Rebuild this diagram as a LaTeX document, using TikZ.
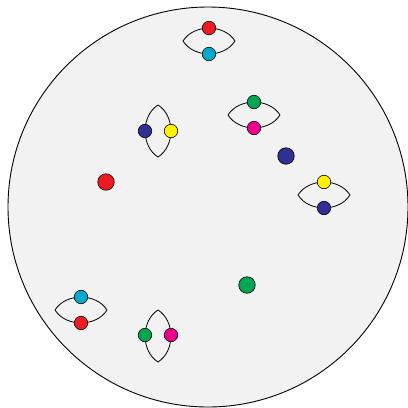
\documentclass[tikz,border=0pt]{standalone}
\usepackage{xcolor}
\usetikzlibrary{positioning}

\definecolor{discgray}{RGB}{242,242,242}
\definecolor{dotred}{RGB}{237,28,36}
\definecolor{dotcyan}{RGB}{0,170,200}
\definecolor{dotblue}{RGB}{46,49,146}
\definecolor{dotyellow}{RGB}{255,242,0}
\definecolor{dotgreen}{RGB}{0,166,81}
\definecolor{dotmagenta}{RGB}{236,0,140}

\begin{document}
\begin{tikzpicture}[
  x=1pt, y=-1pt,
  dot/.style ={circle, draw=black, line width=0.6pt, inner sep=0pt,
               minimum size=13.5pt},
  bigdot/.style={dot, minimum size=16.5pt},
  lens/.style={line width=0.8pt, black},
  disc/.style={draw=black, line width=0.9pt, fill=discgray},
]
\useasboundingbox (0,0) rectangle (408,408);

% Disc
\draw[disc] (208,207) circle (200);

% Lens tips
\coordinate (l1w) at (183,41);  \coordinate (l1e) at (235,41);
\coordinate (l2n) at (158,105); \coordinate (l2s) at (158,157);
\coordinate (l3w) at (228,115); \coordinate (l3e) at (280,115);
\coordinate (l4w) at (298,195); \coordinate (l4e) at (350,195);
\coordinate (l5w) at (55,310);  \coordinate (l5e) at (107,310);
\coordinate (l6n) at (158,310); \coordinate (l6s) at (158,362);

% Lenses
\draw[lens] (l1w) to[bend left=58] (l1e) to[bend left=58] (l1w);
\draw[lens] (l2n) to[bend left=58] (l2s) to[bend left=58] (l2n);
\draw[lens] (l3w) to[bend left=58] (l3e) to[bend left=58] (l3w);
\draw[lens] (l4w) to[bend left=58] (l4e) to[bend left=58] (l4w);
\draw[lens] (l5w) to[bend left=58] (l5e) to[bend left=58] (l5w);
\draw[lens] (l6n) to[bend left=58] (l6s) to[bend left=58] (l6n);

% Paired dots
\node[dot, fill=dotred]     (p1a) at (209,28)  {};
\node[dot, fill=dotcyan]    (p1b) at (209,54)  {};
\node[dot, fill=dotblue]    (p2a) at (145,131) {};
\node[dot, fill=dotyellow]  (p2b) at (171,131) {};
\node[dot, fill=dotgreen]   (p3a) at (254,102) {};
\node[dot, fill=dotmagenta] (p3b) at (254,128) {};
\node[dot, fill=dotyellow]  (p4a) at (324,182) {};
\node[dot, fill=dotblue]    (p4b) at (324,208) {};
\node[dot, fill=dotcyan]    (p5a) at (81,297)  {};
\node[dot, fill=dotred]     (p5b) at (81,323)  {};
\node[dot, fill=dotgreen]   (p6a) at (145,335) {};
\node[dot, fill=dotmagenta] (p6b) at (171,335) {};

% Single dots
\node[bigdot, fill=dotred]  (s1) at (106,182) {};
\node[bigdot, fill=dotblue] (s2) at (286,156) {};
\node[bigdot, fill=dotgreen] (s3) at (247,285) {};

\end{tikzpicture}
\end{document}
